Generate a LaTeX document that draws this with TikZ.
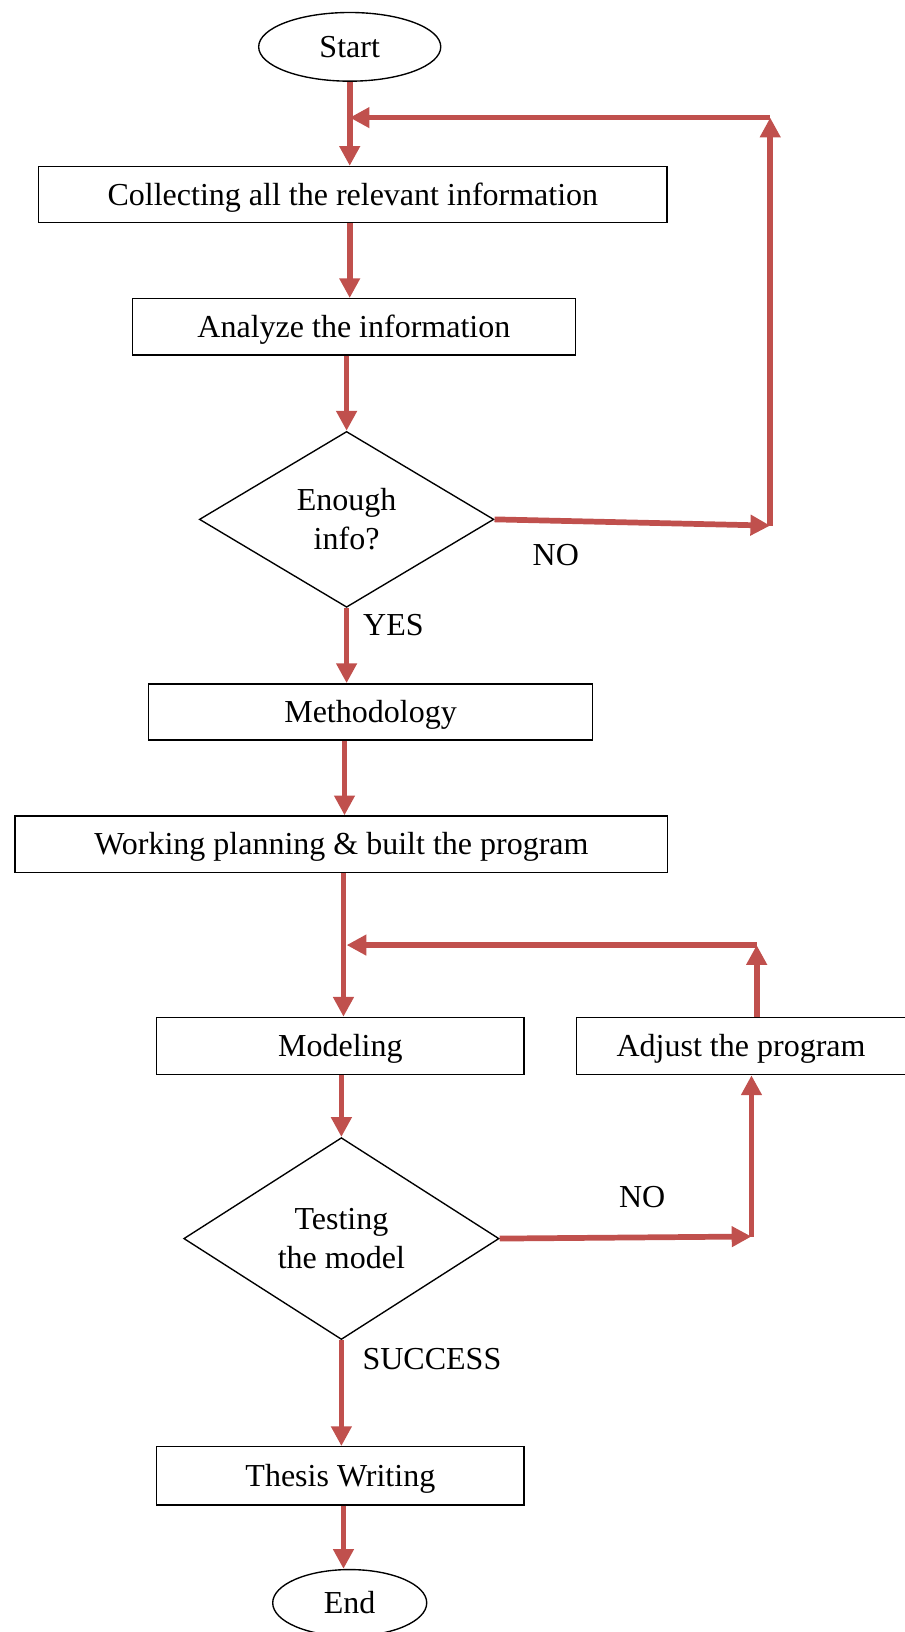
\documentclass[tikz,border=0pt]{standalone}
\usepackage{fontspec}
\setmainfont{Liberation Serif}
\usetikzlibrary{arrows.meta,shapes.geometric}
\definecolor{flowred}{RGB}{192,80,77}
\tikzset{
	procbox/.style={draw, rectangle, line width=0.75pt, minimum height=1.08cm, inner sep=0pt, text height=15.5pt, text depth=3.8pt},
	decbox/.style={draw, diamond, line width=0.75pt, align=center, inner sep=0pt},
	termbox/.style={draw, ellipse, line width=0.75pt, inner sep=0pt},
	flow/.style={draw=flowred, line width=0.11cm, -{Triangle[length=0.38cm,width=0.38cm]}}
}
\begin{document}
\begin{tikzpicture}[x=0.02cm, y=-0.02cm, font=\fontsize{17.5}{21.5}\selectfont]
		\useasboundingbox (0,0) rectangle (869,1568);
		\node[termbox, minimum width=3.5cm, minimum height=1.32cm] (start) at (336,45) {Start};
		\node[procbox, minimum width=12.08cm] (collect) at (339,187) {Collecting all the relevant information};
		\node[procbox, minimum width=8.52cm] (analyze) at (340,314) {Analyze the information};
		\node[decbox, minimum width=5.66cm, minimum height=3.38cm] (enough) at (333,499) {Enough\\info?};
		\node[procbox, minimum width=8.54cm] (method) at (356,684) {Methodology};
		\node[procbox, minimum width=12.54cm] (plan) at (328,811) {Working planning \& built the program};
		\node[procbox, minimum width=7.06cm, minimum height=1.1cm] (model) at (327,1005) {Modeling};
		\node[procbox, minimum width=6.32cm, minimum height=1.1cm] (adjust) at (712,1005) {Adjust the program};
		\node[decbox, minimum width=6.06cm, minimum height=3.88cm] (test) at (328,1190) {Testing\\the model};
		\node[procbox, minimum width=7.06cm, minimum height=1.12cm] (thesis) at (327,1418) {Thesis Writing};
		\node[termbox, minimum width=2.96cm, minimum height=1.28cm] (finish) at (336,1540) {End};
		
		\node (no1) at (534,533) {NO};
		\node (yes) at (378,601) {YES};
		\node (no2) at (617,1150) {NO};
		\node (success) at (415,1306) {SUCCESS};
		
		\coordinate (j1) at (336,113);
		\coordinate (c1) at (740,505);
		\coordinate (c2) at (740,113);
		\coordinate (c3) at (722,1188);
		\coordinate (c4) at (727,908);
		\coordinate (j2) at (333,908);
		
		\draw[flow] (start.south) to (start.south |- collect.north);
		\draw[flow] (collect.south -| start.south) to (analyze.north -| start.south);
		\draw[flow] (analyze.south -| enough.north) to (enough.north);
		\draw[flow] (enough.south) to (method.north -| enough.south);
		\draw[flow] (method.south -| 331,0) to (plan.north -| 331,0);
		\draw[flow] (plan.south -| 330,0) to (model.north -| 330,0);
		\draw[flow] (model.south -| test.north) to (test.north);
		\draw[flow] (test.south) to (thesis.north -| test.south);
		\draw[flow] (thesis.south -| 330,0) to (finish.north -| 330,0);
		
		\draw[flow] (enough.east) to (c1);
		\draw[flow] (c1) to (c2);
		\draw[flow] (c2) to (j1);
		\draw[flow] (test.east) to (c3);
		\draw[flow] (c3) to (c3 |- adjust.south);
		\draw[flow] (c4 |- adjust.north) to (c4);
		\draw[flow] (c4) to (j2);
		
	\end{tikzpicture}
\end{document}
